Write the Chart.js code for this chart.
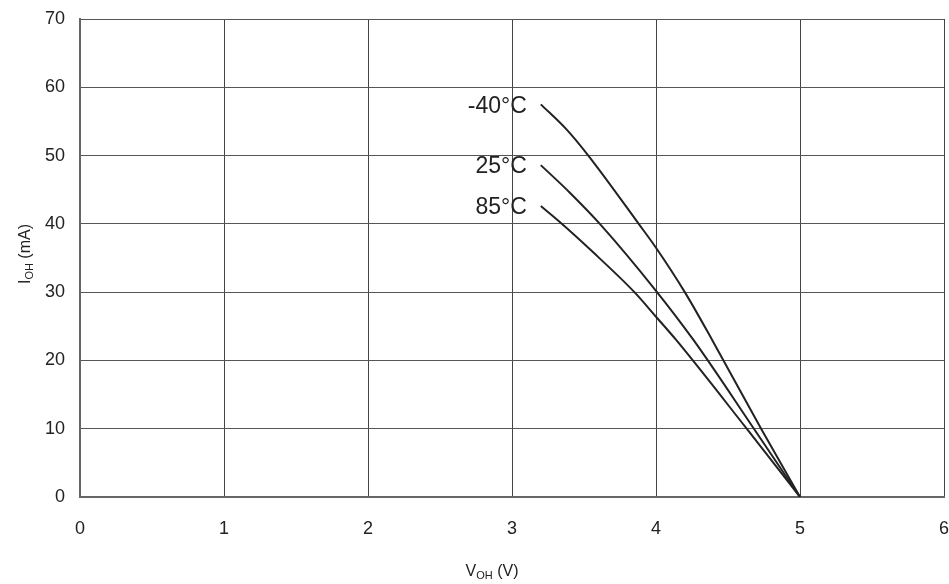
<!DOCTYPE html>
<html>
<head>
<meta charset="utf-8">
<script src="https://cdn.jsdelivr.net/npm/chart.js@4"></script>
<style>
  html, body { margin: 0; padding: 0; background: #fff; }
  #ioh { display: block; }
</style>
</head>
<body>
<canvas id="ioh" width="949" height="584"></canvas>
<script>
const xTicks = [0, 1, 2, 3, 4, 5, 6]
const yTicks = [0, 10, 20, 30, 40, 50, 60, 70]

// V_OH (V) / I_OH (mA)
const tempLabels = ["-40°C", "25°C", "85°C"]
const vohM40 = [3.2, 3.38, 3.53, 3.88, 4.0, 4.2, 4.39, 4.73, 5.0]
const iohM40 = [57.5, 53.8, 50, 40, 36.5, 30, 23, 10, 0]
const voh25 = [3.2, 3.4, 3.61, 4.0, 4.26, 4.68, 5.0]
const ioh25 = [48.6, 44.6, 40, 30.2, 23, 10, 0]
const voh85 = [3.2, 3.33, 3.56, 3.85, 4.0, 4.14, 4.63, 5.0]
const ioh85 = [42.6, 40.3, 35.9, 30, 26.4, 23, 10, 0]

const FONT = "'Liberation Sans', Arial, sans-serif"

function pts(xs, ys) {
  return xs.map((v, i) => ({ x: v, y: ys[i] }))
}

function series(label, xs, ys) {
  return {
    label: label,
    data: pts(xs, ys),
    borderColor: "#222",
    borderWidth: 2,
    pointRadius: 0,
    fill: false,
    cubicInterpolationMode: "monotone"
  }
}

// curve names next to the first point + axis titles with subscripts
const annotate = {
  id: "annotate",
  afterDatasetsDraw(chart) {
    const ctx = chart.ctx
    const xs = chart.scales.x, ys = chart.scales.y
    ctx.save()
    ctx.fillStyle = "#222"
    ctx.font = "23px " + FONT
    ctx.textAlign = "right"
    ctx.textBaseline = "middle"
    chart.data.datasets.forEach((ds) => {
      const p = ds.data[0]
      ctx.fillText(ds.label, xs.getPixelForValue(p.x) - 14, ys.getPixelForValue(p.y) + 2)
    })

    // x title: V_OH (V)
    drawSub(ctx, "V", "OH", " (V)", 492, 570, 0)
    // y title: I_OH (mA)
    drawSub(ctx, "I", "OH", " (mA)", 24, 254, -Math.PI / 2)
    ctx.restore()
  }
}

function drawSub(ctx, main, sub, rest, cx, cy, rot) {
  const big = "16px " + FONT, small = "11px " + FONT
  ctx.save()
  ctx.translate(cx, cy)
  ctx.rotate(rot)
  ctx.font = big
  const w1 = ctx.measureText(main).width
  const w3 = ctx.measureText(rest).width
  ctx.font = small
  const w2 = ctx.measureText(sub).width
  let x = -(w1 + w2 + w3) / 2
  ctx.textAlign = "left"
  ctx.textBaseline = "alphabetic"
  ctx.fillStyle = "#222"
  ctx.font = big
  ctx.fillText(main, x, 6)
  x += w1
  ctx.font = small
  ctx.fillText(sub, x, 9)
  x += w2
  ctx.font = big
  ctx.fillText(rest, x, 6)
  ctx.restore()
}

new Chart(document.getElementById("ioh"), {
  type: "line",
  data: {
    datasets: [
      series(tempLabels[0], vohM40, iohM40),
      series(tempLabels[1], voh25, ioh25),
      series(tempLabels[2], voh85, ioh85)
    ]
  },
  options: {
    responsive: false,
    animation: false,
    layout: { padding: { top: 19, right: 5, left: 0, bottom: 0 } },
    plugins: {
      legend: { display: false },
      tooltip: { enabled: false }
    },
    scales: {
      x: {
        type: "linear",
        min: xTicks[0],
        max: xTicks[xTicks.length - 1],
        afterBuildTicks: (s) => { s.ticks = xTicks.map(v => ({ value: v })) },
        afterFit: (s) => { s.height = 87; s.paddingLeft = 0; s.paddingRight = 0 },
        grid: { color: "#444", lineWidth: 1, drawTicks: false },
        border: { color: "#666", width: 2 },
        ticks: { color: "#222", font: { family: FONT, size: 18 }, padding: 21 }
      },
      y: {
        min: yTicks[0],
        max: yTicks[yTicks.length - 1],
        afterBuildTicks: (s) => { s.ticks = yTicks.map(v => ({ value: v })) },
        afterFit: (s) => { s.width = 80; s.paddingTop = 0; s.paddingBottom = 0 },
        grid: { color: "#555", lineWidth: 1, drawTicks: false },
        border: { color: "#666", width: 2 },
        ticks: { color: "#222", font: { family: FONT, size: 18 }, padding: 15 }
      }
    }
  },
  plugins: [annotate]
})
</script>
</body>
</html>
